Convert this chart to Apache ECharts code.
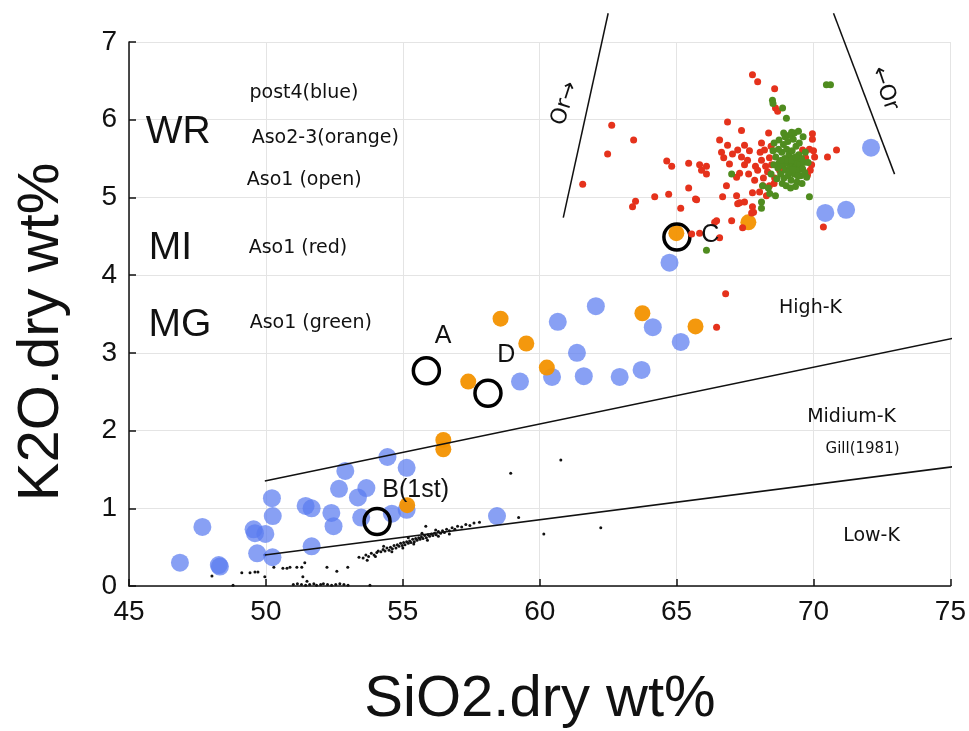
<!DOCTYPE html>
<html>
<head>
<meta charset="utf-8">
<script src="https://cdn.jsdelivr.net/npm/echarts@6/dist/echarts.min.js"></script>
<style>
  html, body { margin: 0; padding: 0; background: #fff; }
  #chart { width: 969px; height: 731px; }
</style>
</head>
<body>
<div id="chart"></div>
<script>
// Axis ticks
const xTicks = [45, 50, 55, 60, 65, 70, 75];
const yTicks = [0, 1, 2, 3, 4, 5, 6, 7];

// Whole-rock, post-Aso4 (blue)
const post4 = [
  [46.86, 0.30], [48.28, 0.27], [48.32, 0.25], [47.68, 0.76], [49.55, 0.73],
  [49.60, 0.68], [49.98, 0.67], [49.68, 0.42], [50.24, 0.37], [50.22, 1.13],
  [50.25, 0.90], [51.45, 1.03], [51.67, 1.00], [52.39, 0.94], [52.47, 0.77],
  [52.67, 1.25], [51.67, 0.51], [52.90, 1.48], [54.44, 1.66], [53.67, 1.26],
  [53.36, 1.14], [55.14, 1.52], [53.48, 0.88], [54.60, 0.93], [55.14, 0.98],
  [58.44, 0.90], [59.28, 2.63], [60.45, 2.69], [61.36, 3.00], [61.61, 2.70],
  [60.66, 3.40], [62.05, 3.60], [62.92, 2.69], [63.72, 2.78], [64.13, 3.33],
  [65.15, 3.14], [64.74, 4.16], [70.43, 4.80], [71.19, 4.84], [72.10, 5.64]
];

// Whole-rock, Aso2-3 (orange)
const aso23 = [
  [55.16, 1.04], [56.48, 1.88], [56.48, 1.76], [57.39, 2.63], [58.57, 3.44],
  [59.51, 3.12], [60.26, 2.81], [63.75, 3.51], [65.69, 3.34], [64.99, 4.54],
  [67.62, 4.68]
];

// Whole-rock, Aso1 (open circles)
const aso1WR = [
  [55.86, 2.77], [58.11, 2.48], [54.06, 0.83], [65.01, 4.49]
];

// Melt inclusions, Aso1 (red)
const aso1MI = [
  [67.77, 6.58], [67.96, 6.49], [68.58, 6.40], [68.61, 6.15], [68.69, 6.11],
  [62.63, 5.93], [63.43, 5.74], [62.48, 5.56], [61.57, 5.17], [64.64, 5.47],
  [64.82, 5.40], [65.44, 5.44], [65.84, 5.42], [66.09, 5.40], [65.91, 5.35],
  [66.09, 5.30], [66.86, 5.97], [67.37, 5.86], [66.57, 5.74], [66.86, 5.67],
  [66.64, 5.58], [67.04, 5.56], [66.72, 5.51], [67.37, 5.52], [67.66, 5.60],
  [66.93, 5.43], [67.30, 5.31], [67.63, 5.30], [67.88, 5.40], [66.82, 5.15],
  [65.44, 5.12], [64.20, 5.01], [64.71, 5.04], [65.69, 4.98], [63.50, 4.95],
  [63.39, 4.88], [65.15, 4.86], [66.68, 5.01], [67.19, 5.02], [67.30, 4.93],
  [67.48, 4.94], [67.77, 4.88], [67.01, 4.70], [66.39, 4.68], [67.85, 5.22],
  [68.36, 5.83], [68.10, 5.70], [69.96, 5.82], [69.96, 5.75], [69.85, 5.62],
  [70.04, 5.52], [70.51, 5.52], [70.84, 5.61], [67.77, 5.06], [67.81, 4.81],
  [70.36, 4.62], [65.73, 4.97], [68.28, 5.02], [67.23, 4.92], [67.74, 4.80],
  [66.46, 4.70], [67.41, 4.61], [66.57, 4.48], [65.84, 4.54], [65.55, 4.53],
  [66.79, 3.76], [66.46, 3.33], [68.21, 5.61], [68.39, 5.51], [68.47, 5.42],
  [68.32, 5.33], [68.58, 5.25], [68.76, 5.35], [68.10, 5.48], [67.96, 5.35],
  [68.17, 5.25], [68.39, 5.15], [68.03, 5.07], [67.48, 5.42], [67.59, 5.48],
  [69.60, 5.61], [69.71, 5.51], [69.49, 5.42], [69.93, 5.42], [69.78, 5.29],
  [67.48, 5.67], [67.23, 5.61], [67.19, 5.26], [68.05, 5.58], [68.25, 5.40],
  [68.45, 5.66], [68.15, 5.15], [69.88, 5.35], [70.00, 5.60], [68.56, 5.18]
];

// Matrix glass, Aso1 (green)
const aso1MG = [
  [68.62, 5.52], [68.70, 5.38], [68.75, 5.45], [68.80, 5.30], [68.84, 5.58],
  [68.88, 5.41], [68.92, 5.25], [68.95, 5.50], [68.98, 5.35], [69.02, 5.62],
  [69.05, 5.44], [69.08, 5.28], [69.10, 5.55], [69.12, 5.38], [69.15, 5.47],
  [69.18, 5.22], [69.20, 5.33], [69.22, 5.60], [69.25, 5.42], [69.28, 5.51],
  [69.30, 5.30], [69.33, 5.39], [69.36, 5.66], [69.38, 5.46], [69.40, 5.20],
  [69.43, 5.35], [69.46, 5.55], [69.50, 5.43], [69.53, 5.28], [69.56, 5.50],
  [69.60, 5.37], [69.64, 5.45], [69.68, 5.32], [68.55, 5.42], [68.66, 5.24],
  [68.72, 5.62], [68.86, 5.18], [68.90, 5.68], [69.00, 5.15], [69.06, 5.72],
  [69.16, 5.12], [69.26, 5.75], [69.34, 5.14], [69.48, 5.70], [69.58, 5.18],
  [69.70, 5.58], [69.75, 5.26], [68.45, 5.30], [68.52, 5.60], [69.12, 5.80],
  [69.30, 5.83], [69.45, 5.85], [68.96, 5.78], [69.62, 5.78], [69.80, 5.45],
  [69.00, 5.48], [69.20, 5.48], [69.35, 5.52], [68.82, 5.48], [69.10, 5.33],
  [69.42, 5.28], [69.24, 5.36],
  [68.50, 6.25], [68.52, 6.21], [68.87, 6.15], [69.01, 6.02], [70.47, 6.45],
  [70.62, 6.45], [69.85, 5.01], [68.61, 5.02], [68.10, 4.94], [68.10, 4.86],
  [66.09, 4.32], [67.01, 5.30], [68.14, 5.15], [68.91, 5.83], [69.20, 5.84],
  [68.74, 5.74], [68.56, 5.70], [68.35, 5.12], [68.40, 5.05]
];

// Reference suite (small black dots)
const refSuite = [
  [48.03, 0.13], [48.80, 0.01], [49.12, 0.17], [49.42, 0.17], [49.60, 0.18],
  [49.71, 0.18], [49.96, 0.40], [49.96, 0.12], [50.29, 0.24], [50.62, 0.23],
  [50.77, 0.23], [50.88, 0.24], [51.13, 0.24], [51.31, 0.24], [51.42, 0.30],
  [51.35, 0.12], [52.23, 0.24], [52.59, 0.19], [52.99, 0.24], [53.80, 0.01],
  [55.84, 0.77], [58.94, 1.45], [60.77, 1.62], [59.23, 0.88], [60.15, 0.67],
  [62.23, 0.75],
  [51.00, 0.02], [51.15, 0.03], [51.30, 0.02], [51.45, 0.01], [51.60, 0.02],
  [51.75, 0.03], [51.85, 0.01], [52.00, 0.02], [52.10, 0.03], [52.25, 0.02],
  [52.40, 0.01], [52.55, 0.02], [52.70, 0.03], [52.85, 0.02], [53.00, 0.01],
  [51.50, 0.06],
  [53.40, 0.37], [53.55, 0.36], [53.65, 0.40], [53.75, 0.38], [53.85, 0.42],
  [53.95, 0.40], [54.05, 0.43], [54.10, 0.45], [54.20, 0.44], [54.28, 0.47],
  [54.35, 0.45], [54.42, 0.49], [54.50, 0.46], [54.55, 0.50], [54.62, 0.48],
  [54.68, 0.52], [54.75, 0.49], [54.80, 0.53], [54.86, 0.51], [54.92, 0.55],
  [54.98, 0.52], [55.03, 0.56], [55.08, 0.53], [55.14, 0.57], [55.20, 0.55],
  [55.25, 0.58], [55.30, 0.56], [55.36, 0.60], [55.42, 0.57], [55.47, 0.61],
  [55.52, 0.59], [55.58, 0.62], [55.63, 0.60], [55.68, 0.63], [55.74, 0.61],
  [55.80, 0.65], [55.86, 0.62], [55.92, 0.66], [55.98, 0.64], [56.04, 0.67],
  [56.10, 0.65], [56.16, 0.68], [56.22, 0.66], [56.30, 0.70], [56.38, 0.68],
  [56.45, 0.71], [56.52, 0.69], [56.60, 0.73], [56.70, 0.71], [56.80, 0.75],
  [56.90, 0.73], [57.00, 0.77], [57.15, 0.76], [57.30, 0.79], [57.45, 0.78],
  [57.60, 0.81], [57.80, 0.82], [54.60, 0.44], [55.00, 0.49], [55.40, 0.54],
  [55.90, 0.59], [56.30, 0.64], [56.70, 0.67], [55.20, 0.62], [55.70, 0.68],
  [56.20, 0.72], [54.30, 0.51], [53.70, 0.33], [54.00, 0.38]
];

// Gill (1981) K-series boundaries
const highMediumK = [[49.96, 1.35], [75.66, 3.23]];
const mediumLowK = [[49.96, 0.40], [75.66, 1.56]];
// Orthoclase fractionation directions
const orLeft = [[60.86, 4.74], [62.50, 7.37]];
const orRight = [[70.73, 7.37], [72.96, 5.30]];

// Text placed in data coordinates
const groupLabels = [['WR', 46.80, 5.84], ['MI', 46.51, 4.35], ['MG', 46.86, 3.36]];
const groupNotes = [
  ['post4(blue)', 51.39, 6.34], ['Aso2-3(orange)', 52.17, 5.76],
  ['Aso1 (open)', 51.40, 5.22], ['Aso1 (red)', 51.17, 4.35],
  ['Aso1 (green)', 51.64, 3.38]
];
const pointLetters = [['A', 56.47, 3.22], ['D', 58.78, 2.97], ['C', 66.23, 4.52], ['B(1st)', 55.47, 1.24]];
const zoneLabels = [['High-K', 69.89, 3.58], ['Midium-K', 71.39, 2.17], ['Low-K', 72.12, 0.64]];
const sourceLabel = [['Gill(1981)', 71.79, 1.76]];
const orLabels = [['Or→', 60.92, 6.21, 72], ['←Or', 72.59, 6.40, -71]];

const toItems = rows => rows.map(r => ({ name: r[0], value: [r[1], r[2]], rot: r[3] || 0 }));

function labelSeries(rows, font, size) {
  return {
    type: 'scatter',
    data: toItems(rows).map(d => Object.assign(d, {
      label: { rotate: d.rot }
    })),
    symbolSize: 0,
    silent: true,
    clip: false,
    z: 10,
    itemStyle: { opacity: 1 },
    label: {
      show: true,
      position: 'inside',
      formatter: p => p.name,
      color: '#111',
      fontFamily: font,
      fontSize: size
    }
  };
}

function boundary(points) {
  return {
    type: 'line',
    data: points,
    symbol: 'none',
    clip: false,
    silent: true,
    z: 6,
    lineStyle: { color: '#111', width: 1.5 }
  };
}

const axisCommon = {
  type: 'value',
  axisLine: { show: true, onZero: false, lineStyle: { color: '#111', width: 1.5 } },
  axisTick: { show: true, inside: true, length: 7, lineStyle: { color: '#111', width: 1.5 } },
  axisLabel: { color: '#111', fontSize: 28, fontFamily: 'Liberation Sans', margin: 12 },
  splitLine: { show: true, lineStyle: { color: '#e4e4e4', width: 1 } }
};

const chart = echarts.init(document.getElementById('chart'), null, { renderer: 'canvas' });

chart.setOption({
  animation: false,
  backgroundColor: '#ffffff',
  grid: { left: 129, top: 42, right: 18, bottom: 145, containLabel: false },
  xAxis: Object.assign({}, axisCommon, {
    min: xTicks[0], max: xTicks[xTicks.length - 1], interval: xTicks[1] - xTicks[0]
  }),
  yAxis: Object.assign({}, axisCommon, {
    min: yTicks[0], max: yTicks[yTicks.length - 1], interval: yTicks[1] - yTicks[0]
  }),
  graphic: [
    {
      type: 'text', x: 42, y: 332, rotation: Math.PI / 2,
      style: {
        text: 'K2O.dry wt%', fill: '#111', font: '58px "Liberation Sans"',
        textAlign: 'center', textVerticalAlign: 'middle'
      }
    },
    {
      type: 'text', x: 540, y: 700,
      style: {
        text: 'SiO2.dry wt%', fill: '#111', font: '58px "Liberation Sans"',
        textAlign: 'center', textVerticalAlign: 'middle'
      }
    }
  ],
  series: [
    {
      name: 'reference', type: 'scatter', data: refSuite, symbolSize: 3,
      itemStyle: { color: '#111', opacity: 1 }, z: 2
    },
    {
      name: 'post4', type: 'scatter', data: post4, symbolSize: 18,
      itemStyle: { color: '#5a7cf0', opacity: 0.72 }, z: 3
    },
    {
      name: 'Aso2-3', type: 'scatter', data: aso23, symbolSize: 16,
      itemStyle: { color: '#f39200', opacity: 0.95 }, z: 3
    },
    {
      name: 'Aso1 WR', type: 'scatter', data: aso1WR, symbolSize: 26,
      itemStyle: { color: 'rgba(0,0,0,0)', borderColor: '#000', borderWidth: 3.5, opacity: 1 }, z: 4
    },
    {
      name: 'Aso1 MI', type: 'scatter', data: aso1MI, symbolSize: 7,
      itemStyle: { color: '#e5321c', opacity: 1 }, z: 4
    },
    {
      name: 'Aso1 MG', type: 'scatter', data: aso1MG, symbolSize: 7,
      itemStyle: { color: '#4f8c1f', opacity: 1 }, z: 4
    },
    boundary(highMediumK),
    boundary(mediumLowK),
    boundary(orLeft),
    boundary(orRight),
    labelSeries(groupLabels, 'Liberation Sans', 39),
    labelSeries(groupNotes, 'DejaVu Sans', 19),
    labelSeries(pointLetters, 'Liberation Sans', 25),
    labelSeries(zoneLabels, 'DejaVu Sans', 19),
    labelSeries(sourceLabel, 'DejaVu Sans', 15),
    labelSeries(orLabels, 'DejaVu Sans', 22)
  ]
});
</script>
</body>
</html>
